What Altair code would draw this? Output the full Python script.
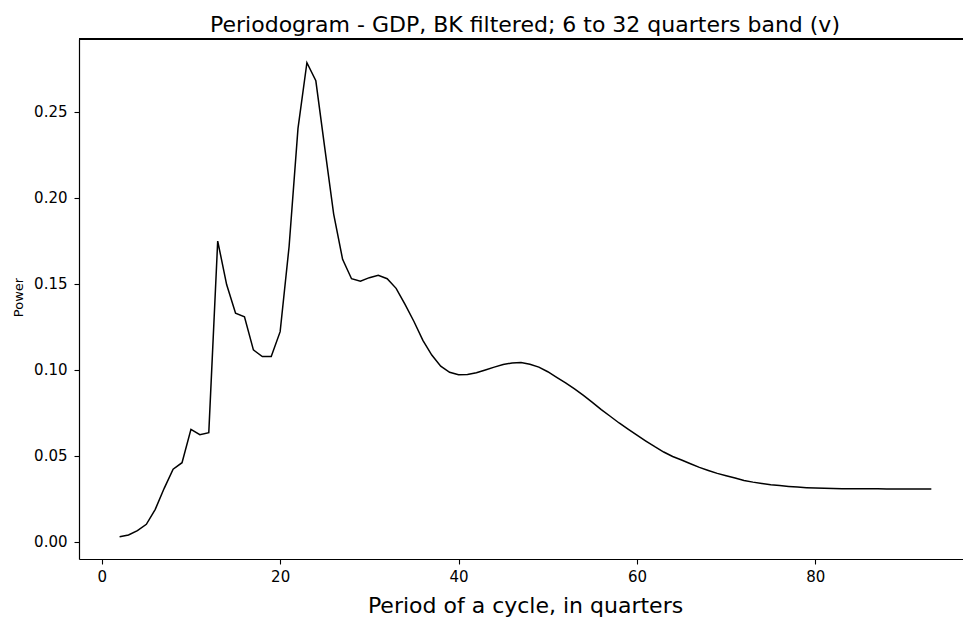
import altair as alt
import pandas as pd

# Period of each cycle, in quarters
periods = list(range(2, 94))

# Periodogram power at each period
power = [
    0.0029, 0.0039, 0.0064, 0.0101, 0.0188, 0.0310, 0.0421, 0.0459, 0.0653, 0.0622,
    0.0634, 0.1748, 0.1495, 0.1328, 0.1308, 0.1115, 0.1076, 0.1076, 0.1221, 0.1715,
    0.2403, 0.2785, 0.2680, 0.2290, 0.1905, 0.1642, 0.1529, 0.1514, 0.1535, 0.1549,
    0.1529, 0.1473, 0.1380, 0.1280, 0.1170, 0.1085, 0.1020, 0.0985, 0.0970, 0.0972,
    0.0982, 0.0998, 0.1015, 0.1030, 0.1039, 0.1041, 0.1032, 0.1015, 0.0988, 0.0955,
    0.0923, 0.0888, 0.0850, 0.0810, 0.0768, 0.0729, 0.0690, 0.0654, 0.0619, 0.0585,
    0.0552, 0.0521, 0.0495, 0.0475, 0.0453, 0.0432, 0.0414, 0.0397, 0.0383, 0.0370,
    0.0356, 0.0346, 0.0338, 0.0331, 0.0326, 0.0321, 0.0317, 0.0314, 0.0312, 0.0310,
    0.0309, 0.0308, 0.0308, 0.0307, 0.0307, 0.0307, 0.0306, 0.0306, 0.0306, 0.0306,
    0.0306, 0.0306,
]

x_ticks = [0, 20, 40, 60, 80]
y_ticks = [0.0, 0.05, 0.10, 0.15, 0.20, 0.25]

df = pd.DataFrame({"period": periods, "power": power})

FONT = "DejaVu Sans"
W, H = 884, 520

line = alt.Chart(df).mark_line(color="black", strokeWidth=1.5).encode(
    x=alt.X(
        "period:Q",
        scale=alt.Scale(domain=[-2.55, 96.55], nice=False, zero=False),
        axis=alt.Axis(
            values=x_ticks,
            format="d",
            title="Period of a cycle, in quarters",
            titleFontSize=22,
            titleFont=FONT,
            titleFontWeight="normal",
            titleColor="black",
            titleX=446,
            titleY=53,
            titleBaseline="alphabetic",
            titleAnchor="start",
            titleAlign="center",
            labelFont=FONT,
            labelFontSize=15,
            labelColor="black",
            labelPadding=5,
            tickSize=5,
            tickColor="black",
            tickWidth=1.1,
            domainColor="black",
            domainWidth=1.2,
            grid=False,
        ),
    ),
    y=alt.Y(
        "power:Q",
        scale=alt.Scale(domain=[-0.0101, 0.2923], nice=False, zero=False),
        axis=alt.Axis(
            values=y_ticks,
            format=".2f",
            title="Power",
            titleFontSize=13,
            titleFont=FONT,
            titleFontWeight="normal",
            titleColor="black",
            titleX=-54,
            titleY=258,
            titleAngle=270,
            titleAlign="center",
            titleBaseline="bottom",
            labelFont=FONT,
            labelFontSize=15,
            labelColor="black",
            labelPadding=7,
            tickSize=5,
            tickColor="black",
            tickWidth=1.1,
            domainColor="black",
            domainWidth=1.2,
            grid=False,
        ),
    ),
)

# top frame edge of the axes box
top_edge = alt.Chart(df).mark_rule(color="black", strokeWidth=1.2).encode(
    x=alt.value(0), x2=alt.value(W), y=alt.value(0)
)

chart = (
    alt.layer(line, top_edge)
    .properties(
        width=W,
        height=H,
        autosize=alt.AutoSizeParams(type="none"),
        padding={"left": 79, "top": 39, "right": 0, "bottom": 61},
        title=alt.TitleParams(
            text="Periodogram - GDP, BK filtered; 6 to 32 quarters band (v)",
            font=FONT,
            fontSize=22,
            fontWeight="normal",
            color="black",
            anchor="middle",
            dx=4,
            dy=25,
            offset=9,
            baseline="alphabetic",
        ),
    )
    .configure_view(stroke=None)
    .configure(background="white")
)

chart.save("out.html", embed_options={"renderer": "svg", "actions": False})
